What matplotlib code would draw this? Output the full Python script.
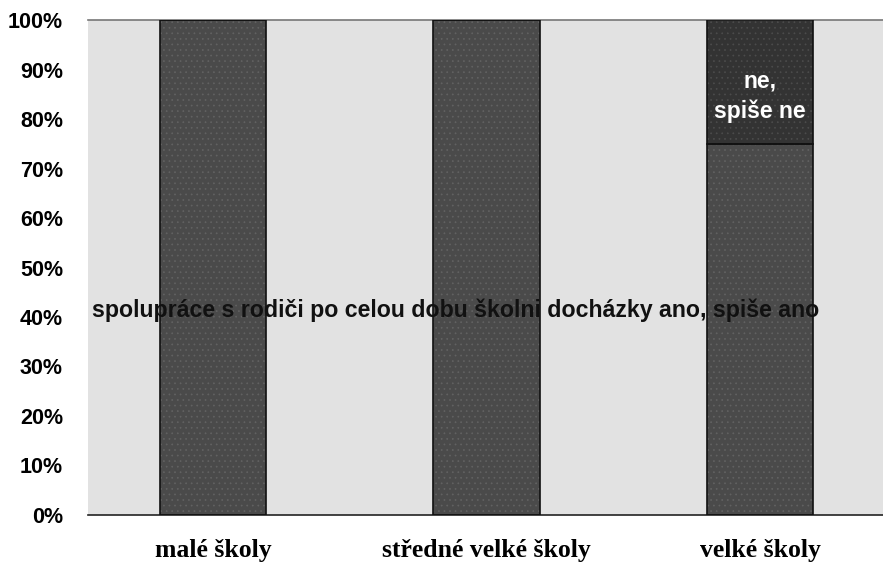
import numpy as np
import matplotlib
matplotlib.use('Agg')
import matplotlib.pyplot as plt

categories = ['malé školy', 'středné velké školy', 'velké školy']
ano = [100, 100, 75]      # "ano, spiše ano"
ne = [0, 0, 25]           # "ne, spiše ne"
yticks = [0, 10, 20, 30, 40, 50, 60, 70, 80, 90, 100]
series_label = 'spolupráce s rodiči po celou dobu školni docházky ano, spiše ano'
ne_label = 'ne,\nspiše ne'

plt.rcParams['hatch.linewidth'] = 0.5

fig = plt.figure(figsize=(8.83, 5.64), dpi=100)
ax = fig.add_axes([0.0997, 0.0869, 0.9003, 0.8776])
ax.set_facecolor('#e2e2e2')

x = np.arange(len(categories))
w = 0.39
ax.bar(x, ano, width=w, color='#4a4a4a', lw=0, zorder=2)
ax.bar(x, ne, bottom=ano, width=w, color='#333333', lw=0, zorder=2)
# faint dotted texture on the bars
ax.bar(x, ano, width=w, fill=False, edgecolor='#626262', lw=0,
       hatch='...', zorder=2.3)
ax.bar(x, ne, bottom=ano, width=w, fill=False, edgecolor='#4c4c4c', lw=0,
       hatch='...', zorder=2.3)
# outlines
ax.bar(x, ano, width=w, fill=False, edgecolor='#111111', lw=1.2, zorder=2.6)
ax.bar(x, ne, bottom=ano, width=w, fill=False, edgecolor='#111111', lw=1.2,
       zorder=2.6)

# series label across the chart
ax.text(-0.442, 41.4, series_label, ha='left', va='center',
        fontsize=16.7, fontweight='bold', family='Liberation Sans',
        color='#111111', zorder=3)
ax.text(x[2], 84.6, ne_label, ha='center', va='center',
        fontsize=16.5, fontweight='bold', family='Liberation Sans',
        color='white', linespacing=1.35, zorder=3)

ax.set_xlim(-0.457, 2.45)
ax.set_ylim(0, 100)
ax.set_yticks(yticks)
ax.set_yticklabels([f'{v}%' for v in yticks], fontsize=15.5,
                   fontweight='bold', family='Liberation Sans')
ax.set_xticks(x)
ax.set_xticklabels(categories, fontsize=18.5, fontweight='bold',
                   family='Liberation Serif')
ax.tick_params(axis='y', length=0, pad=18)
ax.tick_params(axis='x', length=0, pad=17)

for s in ['left', 'right']:
    ax.spines[s].set_visible(False)
ax.spines['top'].set_color('#777777')
ax.spines['top'].set_linewidth(1.2)
ax.spines['bottom'].set_color('#222222')
ax.spines['bottom'].set_linewidth(1.2)

fig.savefig('out.png', dpi=100, facecolor='white')
